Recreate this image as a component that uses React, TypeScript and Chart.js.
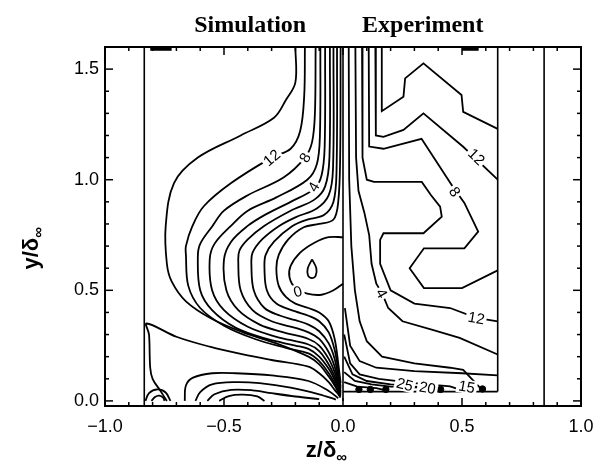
import React, { useEffect, useRef } from "react";
import { Chart, registerables } from "chart.js";
Chart.register(...registerables);

type P = [number, number];

// ---------- axes ----------
const X_TICKS = [-1, -0.5, 0, 0.5, 1];
const Y_TICKS = [0, 0.5, 1, 1.5];
const X_MINOR = [-0.9, -0.8, -0.7, -0.6, -0.4, -0.3, -0.2, -0.1, 0.1, 0.2, 0.3, 0.4, 0.6, 0.7, 0.8, 0.9];
const Y_MINOR = [0.1, 0.2, 0.3, 0.4, 0.6, 0.7, 0.8, 0.9, 1.1, 1.2, 1.3, 1.4];
const X_RANGE = [-1, 1];
const Y_RANGE = [-0.023, 1.6];

// ---------- frame lines (data coords) ----------
const wallLeft: P[] = [[-0.835, -0.023], [-0.835, 1.6]];
const wallRight: P[] = [[0.845, -0.023], [0.845, 1.6]];
const expRight: P[] = [[0.65, 0.042], [0.65, 1.6]];
const expBottom: P[] = [[0.0, 0.042], [0.65, 0.042]];
const centerLine: P[] = [[0.0, 0.0], [0.0, 1.6]];

// ---------- simulation contours ----------
const sim0: P[] = [[0, 0.74], [-0.06, 0.74], [-0.12, 0.715], [-0.18, 0.67], [-0.22, 0.61], [-0.225, 0.56], [-0.2, 0.51], [-0.15, 0.485], [-0.09, 0.48], [-0.04, 0.5], [0, 0.53]];
const simDrop: P[] = [[-0.13, 0.64], [-0.112, 0.6], [-0.115, 0.565], [-0.13, 0.555], [-0.147, 0.567], [-0.148, 0.6], [-0.13, 0.64]];
const sim1: P[] = [[-0.01, 1.6], [-0.012, 1.1], [-0.02, 0.9], [-0.04, 0.82], [-0.1, 0.8], [-0.165, 0.785], [-0.23, 0.73], [-0.27, 0.66], [-0.28, 0.6], [-0.27, 0.52], [-0.24, 0.47], [-0.2, 0.44], [-0.145, 0.42], [-0.1, 0.4], [-0.06, 0.36], [-0.035, 0.28], [-0.02, 0.17], [-0.01, 0.08]];
const sim2: P[] = [[-0.025, 1.6], [-0.027, 1.05], [-0.04, 0.9], [-0.08, 0.84], [-0.15, 0.82], [-0.214, 0.79], [-0.29, 0.72], [-0.325, 0.66], [-0.33, 0.6], [-0.32, 0.5], [-0.28, 0.44], [-0.2, 0.405], [-0.145, 0.385], [-0.1, 0.36], [-0.06, 0.31], [-0.035, 0.23], [-0.02, 0.14], [-0.01, 0.065]];
const sim3: P[] = [[-0.04, 1.6], [-0.042, 1.05], [-0.06, 0.93], [-0.11, 0.87], [-0.2, 0.83], [-0.27, 0.79], [-0.34, 0.73], [-0.38, 0.67], [-0.385, 0.62], [-0.375, 0.5], [-0.33, 0.42], [-0.263, 0.385], [-0.2, 0.365], [-0.145, 0.345], [-0.1, 0.315], [-0.06, 0.26], [-0.035, 0.19], [-0.02, 0.11], [-0.01, 0.055]];
const sim4: P[] = [[-0.055, 1.6], [-0.057, 1.1], [-0.075, 0.97], [-0.12, 0.91], [-0.22, 0.86], [-0.333, 0.79], [-0.4, 0.73], [-0.435, 0.68], [-0.44, 0.63], [-0.43, 0.5], [-0.38, 0.41], [-0.3, 0.36], [-0.2, 0.33], [-0.145, 0.31], [-0.1, 0.28], [-0.06, 0.22], [-0.035, 0.155], [-0.02, 0.09], [-0.01, 0.045]];
const sim5: P[] = [[-0.075, 1.6], [-0.077, 1.15], [-0.09, 1.02], [-0.12, 0.96], [-0.22, 0.9], [-0.33, 0.84], [-0.402, 0.79], [-0.47, 0.72], [-0.5, 0.64], [-0.49, 0.5], [-0.44, 0.41], [-0.35, 0.345], [-0.25, 0.31], [-0.145, 0.28], [-0.1, 0.25], [-0.06, 0.19], [-0.035, 0.13], [-0.02, 0.075], [-0.01, 0.04]];
const sim6: P[] = [[-0.095, 1.6], [-0.097, 1.2], [-0.11, 1.07], [-0.15, 1.0], [-0.28, 0.92], [-0.4, 0.86], [-0.472, 0.79], [-0.54, 0.71], [-0.56, 0.64], [-0.55, 0.5], [-0.5, 0.41], [-0.4, 0.335], [-0.28, 0.29], [-0.145, 0.255], [-0.1, 0.225], [-0.06, 0.165], [-0.035, 0.11], [-0.02, 0.065], [-0.01, 0.035]];
const sim7: P[] = [[-0.115, 1.6], [-0.118, 1.3], [-0.13, 1.17], [-0.16, 1.1], [-0.25, 1.01], [-0.4, 0.93], [-0.5, 0.86], [-0.549, 0.79], [-0.6, 0.71], [-0.61, 0.65], [-0.6, 0.5], [-0.55, 0.41], [-0.45, 0.33], [-0.32, 0.28], [-0.2, 0.25], [-0.145, 0.235], [-0.1, 0.2], [-0.06, 0.145], [-0.035, 0.095], [-0.02, 0.055], [-0.01, 0.03]];
const sim8: P[] = [[-0.16, 1.6], [-0.163, 1.38], [-0.18, 1.22], [-0.22, 1.14], [-0.3, 1.1], [-0.47, 0.985], [-0.585, 0.88], [-0.633, 0.79], [-0.66, 0.7], [-0.66, 0.66], [-0.65, 0.52], [-0.6, 0.42], [-0.5, 0.34], [-0.37, 0.28], [-0.24, 0.24], [-0.145, 0.215], [-0.1, 0.18], [-0.06, 0.125], [-0.035, 0.08], [-0.02, 0.045], [-0.01, 0.025]];
const sim9: P[] = [[-0.2, 1.6], [-0.2, 1.44], [-0.24, 1.36], [-0.29, 1.28], [-0.43, 1.2], [-0.61, 1.1], [-0.71, 0.985], [-0.745, 0.79], [-0.74, 0.62], [-0.72, 0.54], [-0.66, 0.45], [-0.55, 0.37], [-0.42, 0.31], [-0.28, 0.26], [-0.145, 0.2], [-0.1, 0.165], [-0.06, 0.11], [-0.035, 0.07], [-0.02, 0.04], [-0.01, 0.02]];
const simWall: P[] = [[-0.74, 0.0], [-0.77, 0.05], [-0.8, 0.1], [-0.81, 0.15], [-0.815, 0.3], [-0.825, 0.35], [-0.7, 0.29], [-0.56, 0.245], [-0.42, 0.21], [-0.3, 0.185], [-0.145, 0.155], [-0.1, 0.125], [-0.06, 0.085], [-0.035, 0.05], [-0.02, 0.03], [-0.01, 0.015]];
const simB1: P[] = [[-0.665, 0.0], [-0.66, 0.07], [-0.63, 0.105], [-0.55, 0.125], [-0.45, 0.125], [-0.3, 0.115], [-0.145, 0.09], [-0.06, 0.045], [-0.02, 0.012]];
const simB2: P[] = [[-0.62, 0.0], [-0.6, 0.04], [-0.55, 0.075], [-0.45, 0.085], [-0.35, 0.08], [-0.22, 0.06], [-0.1, 0.03], [-0.03, 0.006]];
const simB3: P[] = [[-0.57, 0.0], [-0.54, 0.03], [-0.47, 0.05], [-0.38, 0.048], [-0.3, 0.035], [-0.2, 0.02], [-0.1, 0.008]];
const simB4: P[] = [[-0.52, 0.0], [-0.48, 0.022], [-0.42, 0.028], [-0.36, 0.02], [-0.33, 0.0]];
const simS1: P[] = [[-0.83, 0.0], [-0.815, 0.035], [-0.78, 0.052], [-0.745, 0.038], [-0.725, 0.0]];
const simS2: P[] = [[-0.805, 0.0], [-0.79, 0.018], [-0.772, 0.024], [-0.755, 0.014], [-0.75, 0.0]];

// ---------- experiment contours ----------
const exp1: P[] = [[0.163, 1.6], [0.163, 1.31], [0.254, 1.375], [0.261, 1.458], [0.338, 1.526], [0.498, 1.383], [0.505, 1.307], [0.65, 1.23]];
const exp2: P[] = [[0.136, 1.6], [0.138, 1.2], [0.17, 1.194], [0.254, 1.225], [0.338, 1.3], [0.505, 1.149], [0.65, 1.0]];
const exp3: P[] = [[0.108, 1.6], [0.11, 1.15], [0.17, 1.14], [0.33, 1.185], [0.46, 0.97], [0.51, 0.895], [0.568, 0.765], [0.51, 0.69], [0.34, 0.69], [0.28, 0.6], [0.34, 0.51], [0.5, 0.51], [0.65, 0.59]];
const exp4: P[] = [[0.08, 1.6], [0.082, 1.1], [0.1, 1.0], [0.13, 0.99], [0.331, 0.99], [0.37, 0.93], [0.408, 0.878], [0.415, 0.833], [0.338, 0.758], [0.17, 0.758], [0.156, 0.728], [0.156, 0.62], [0.2, 0.5], [0.3, 0.44], [0.45, 0.42], [0.56, 0.375], [0.65, 0.36]];
const exp5: P[] = [[0.052, 1.6], [0.055, 1.1], [0.065, 0.95], [0.09, 0.85], [0.11, 0.75], [0.12, 0.62], [0.14, 0.53], [0.165, 0.485], [0.19, 0.42], [0.25, 0.36], [0.38, 0.32], [0.49, 0.285], [0.65, 0.21]];
const exp6: P[] = [[0.024, 1.6], [0.026, 1.0], [0.035, 0.7], [0.05, 0.5], [0.07, 0.36], [0.1, 0.27], [0.164, 0.2], [0.3, 0.17], [0.45, 0.15], [0.505, 0.14], [0.586, 0.048]];
const expF0: P[] = [[0.008, 0.42], [0.03, 0.25], [0.07, 0.18], [0.14, 0.15], [0.3, 0.135], [0.5, 0.125], [0.65, 0.115]];
const expF1: P[] = [[0.005, 0.3], [0.03, 0.17], [0.07, 0.12], [0.15, 0.1], [0.3, 0.08], [0.45, 0.066], [0.5, 0.048]];
const expF2: P[] = [[0.005, 0.2], [0.04, 0.12], [0.1, 0.09], [0.2, 0.075], [0.3, 0.065], [0.38, 0.058], [0.41, 0.048]];
const expF3: P[] = [[0.005, 0.13], [0.05, 0.09], [0.12, 0.075], [0.2, 0.065], [0.33, 0.06], [0.36, 0.048]];
const expF4: P[] = [[0.005, 0.085], [0.06, 0.065], [0.14, 0.058], [0.18, 0.048]];
const expBlobs: P[] = [[0.067, 0.052], [0.115, 0.052], [0.18, 0.052], [0.36, 0.052], [0.41, 0.052], [0.5, 0.052], [0.586, 0.054]];
const topMarkA: P[] = [[-0.81, 1.592], [-0.72, 1.592]];
const topMarkB: P[] = [[0.5, 1.592], [0.57, 1.592]];

// ---------- contour labels ----------
const labelText = ["12", "8", "4", "0", "12", "8", "4", "12", "15", "20", "25"];
const labelX = [-0.3, -0.16, -0.123, -0.19, 0.561, 0.47, 0.163, 0.56, 0.52, 0.355, 0.26];
const labelY = [1.1, 1.1, 0.968, 0.495, 1.104, 0.946, 0.487, 0.375, 0.064, 0.06, 0.075];
const LABEL_ANGLE = [-40, -60, -60, -15, 44, 57, 60, 10, 10, 10, 15];

const SMOOTH = [sim0, simDrop, sim1, sim2, sim3, sim4, sim5, sim6, sim7, sim8, sim9, simWall, simB1, simB2, simB3, simB4, simS1, simS2];
const ANGULAR = [exp1, exp2, exp3, exp4, exp5, exp6, expF0, expF1, expF2, expF3, expF4];
const FRAME = [wallLeft, wallRight, expRight, expBottom, centerLine];

const toPts = (a: P[]) => a.map(([x, y]) => ({ x, y }));
const fmt = (v: number) => (v < 0 ? "\u2212" : "") + Math.abs(v).toFixed(1);

const overlay = {
  id: "overlay",
  afterDatasetsDraw(chart: any) {
    const { ctx, chartArea: a, scales } = chart;
    const xs = scales.x, ys = scales.y;
    ctx.save();
    // contour labels
    ctx.font = "15px 'Liberation Sans', Arial, sans-serif";
    ctx.textAlign = "center";
    ctx.textBaseline = "middle";
    labelText.forEach((t, i) => {
      const px = xs.getPixelForValue(labelX[i]);
      const py = ys.getPixelForValue(labelY[i]);
      ctx.save();
      ctx.translate(px, py);
      ctx.rotate((LABEL_ANGLE[i] * Math.PI) / 180);
      const w = ctx.measureText(t).width;
      ctx.fillStyle = "#fff";
      ctx.fillRect(-w / 2 - 2, -7, w + 4, 14);
      ctx.fillStyle = "#000";
      ctx.fillText(t, 0, 1);
      ctx.restore();
    });
    // border
    ctx.strokeStyle = "#000";
    ctx.lineWidth = 2;
    ctx.strokeRect(a.left, a.top, a.right - a.left, a.bottom - a.top);
    // ticks
    ctx.lineWidth = 1.5;
    const tick = (x1: number, y1: number, x2: number, y2: number) => {
      ctx.beginPath(); ctx.moveTo(x1, y1); ctx.lineTo(x2, y2); ctx.stroke();
    };
    X_TICKS.forEach((v) => { const p = xs.getPixelForValue(v); tick(p, a.bottom, p, a.bottom - 8); tick(p, a.top, p, a.top + 8); });
    X_MINOR.forEach((v) => { const p = xs.getPixelForValue(v); tick(p, a.bottom, p, a.bottom - 4); tick(p, a.top, p, a.top + 4); });
    Y_TICKS.forEach((v) => { const p = ys.getPixelForValue(v); tick(a.left, p, a.left + 8, p); tick(a.right, p, a.right - 8, p); });
    Y_MINOR.forEach((v) => { const p = ys.getPixelForValue(v); tick(a.left, p, a.left + 4, p); tick(a.right, p, a.right - 4, p); });
    // panel titles
    ctx.fillStyle = "#000";
    ctx.font = "bold 24px 'Liberation Serif', 'Times New Roman', serif";
    ctx.textAlign = "center";
    ctx.textBaseline = "alphabetic";
    ctx.fillText("Simulation", xs.getPixelForValue(-0.39), 32);
    ctx.fillText("Experiment", xs.getPixelForValue(0.335), 32);
    // x axis title
    ctx.font = "bold 22px 'Liberation Sans', Arial, sans-serif";
    const xm = "z/\u03b4";
    const xmw = ctx.measureText(xm).width;
    ctx.font = "bold 15px 'Liberation Sans', Arial, sans-serif";
    const xsw = ctx.measureText("\u221e").width;
    const x0 = xs.getPixelForValue(-0.07) - (xmw + xsw) / 2;
    ctx.textAlign = "left";
    ctx.font = "bold 22px 'Liberation Sans', Arial, sans-serif";
    ctx.fillText(xm, x0, 457);
    ctx.font = "bold 15px 'Liberation Sans', Arial, sans-serif";
    ctx.fillText("\u221e", x0 + xmw, 462);
    // y axis title
    ctx.save();
    ctx.translate(38, ys.getPixelForValue(0.69));
    ctx.rotate(-Math.PI / 2);
    ctx.font = "bold 22px 'Liberation Sans', Arial, sans-serif";
    const ym = "y/\u03b4";
    const ymw = ctx.measureText(ym).width;
    ctx.font = "bold 15px 'Liberation Sans', Arial, sans-serif";
    const ysw = ctx.measureText("\u221e").width;
    const y0 = -(ymw + ysw) / 2;
    ctx.font = "bold 22px 'Liberation Sans', Arial, sans-serif";
    ctx.fillText(ym, y0, 0);
    ctx.font = "bold 15px 'Liberation Sans', Arial, sans-serif";
    ctx.fillText("\u221e", y0 + ymw, 5);
    ctx.restore();
    ctx.restore();
  },
};

export default function App() {
  const ref = useRef<HTMLCanvasElement>(null);
  useEffect(() => {
    if (!ref.current) return;
    const line = (d: P[], width: number, tension: number) => ({
      data: toPts(d), showLine: true, borderColor: "#000", borderWidth: width,
      pointRadius: 0, tension, fill: false,
    });
    const datasets: any[] = [
      ...SMOOTH.map((d) => line(d, 1.8, 0.35)),
      ...ANGULAR.map((d) => line(d, 1.8, 0)),
      ...FRAME.map((d) => line(d, 1.6, 0)),
      line(topMarkA, 4, 0),
      line(topMarkB, 4, 0),
      { data: toPts(expBlobs), showLine: false, pointRadius: 3.2, backgroundColor: "#000", borderColor: "#000" },
    ];
    const tickFont = { family: "'Liberation Sans', Arial, sans-serif", size: 18 };
    const chart = new Chart(ref.current, {
      type: "scatter",
      data: { datasets },
      options: {
        responsive: false,
        animation: false,
        layout: { padding: { left: 0, top: 47, right: 27, bottom: 0 } },
        plugins: { legend: { display: false }, tooltip: { enabled: false } },
        scales: {
          x: {
            type: "linear", min: X_RANGE[0], max: X_RANGE[1],
            afterBuildTicks: (s: any) => { s.ticks = X_TICKS.map((v) => ({ value: v })); },
            afterFit: (s: any) => { s.height = 64; },
            grid: { display: false, drawTicks: false },
            border: { display: false },
            ticks: { padding: 10, color: "#000", font: tickFont, maxRotation: 0, autoSkip: false, callback: (v: any) => fmt(Number(v)) },
          },
          y: {
            type: "linear", min: Y_RANGE[0], max: Y_RANGE[1],
            afterBuildTicks: (s: any) => { s.ticks = Y_TICKS.map((v) => ({ value: v })); },
            afterFit: (s: any) => { s.width = 105; },
            grid: { display: false, drawTicks: false },
            border: { display: false },
            ticks: { padding: 6, color: "#000", font: tickFont, autoSkip: false, callback: (v: any) => fmt(Number(v)) },
          },
        },
      } as any,
      plugins: [overlay],
    });
    return () => chart.destroy();
  }, []);
  return (
    <div style={{ position: "fixed", left: 0, top: 0, width: 608, height: 470, background: "#fff" }}>
      <canvas ref={ref} width={608} height={470} style={{ display: "block" }} />
    </div>
  );
}
